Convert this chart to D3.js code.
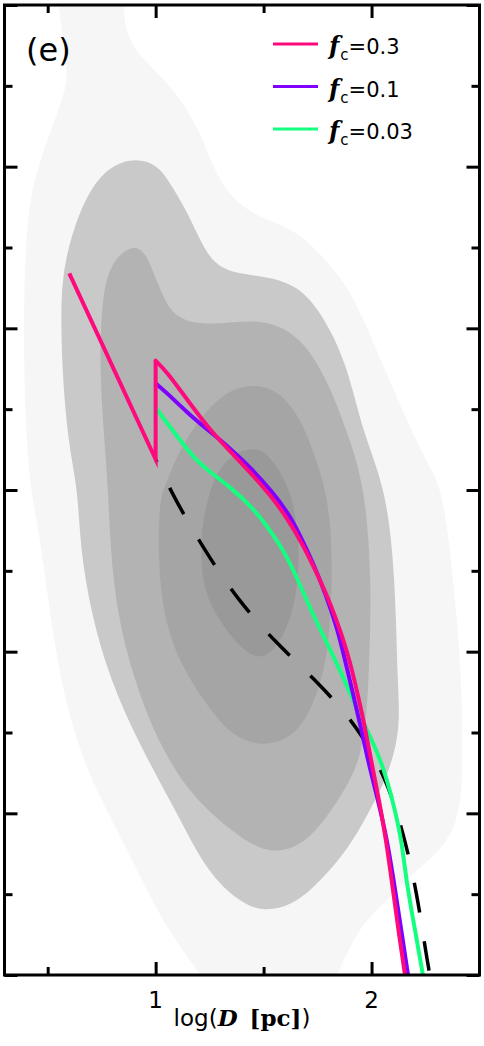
<!DOCTYPE html>
<html>
<head>
<meta charset="utf-8">
<script src="https://cdn.jsdelivr.net/npm/d3@7"></script>
<style>
  body { margin: 0; background: #fff; }
  svg { display: block; font-family: 'DejaVu Sans', sans-serif; }
</style>
</head>
<body>
<svg></svg>
<script>
// density contours, outermost first. points are [log D, y]
let shadeOuter = [[0.54,6.15],[0.55,5.99],[0.59,5.62],[0.59,5.49],[0.51,5.21],[0.43,4.90],[0.40,4.59],[0.39,4.18],[0.39,3.76],[0.40,3.35],[0.42,3.00],[0.46,2.75],[0.51,2.24],[0.56,1.82],[0.64,1.41],[0.74,1.10],[0.90,0.69],[1.05,0.28],[1.21,0.01],[1.28,-0.2],[1.80,-0.2],[1.84,0.01],[1.90,0.17],[1.96,0.32],[2.07,0.46],[2.19,0.63],[2.32,0.77],[2.40,0.94],[2.42,1.21],[2.42,1.31],[2.42,1.82],[2.38,2.44],[2.33,3.00],[2.27,3.14],[2.19,3.35],[2.07,3.72],[1.99,3.97],[1.90,4.24],[1.79,4.42],[1.67,4.59],[1.52,4.67],[1.39,4.75],[1.28,4.94],[1.21,5.21],[1.11,5.43],[1.01,5.58],[0.90,5.72],[0.86,5.86],[0.85,5.99],[0.85,6.15]];
let shadeSecond = [[0.88,5.06],[0.74,4.96],[0.64,4.71],[0.57,4.38],[0.56,4.07],[0.57,3.66],[0.60,3.25],[0.64,3.00],[0.65,2.65],[0.70,2.24],[0.79,1.82],[0.93,1.41],[1.10,1.00],[1.24,0.63],[1.39,0.45],[1.50,0.39],[1.63,0.43],[1.73,0.54],[1.83,0.68],[1.92,0.84],[2.00,1.04],[2.07,1.22],[2.12,1.44],[2.13,1.64],[2.12,1.82],[2.11,2.44],[2.07,3.00],[1.96,3.35],[1.89,3.76],[1.79,4.05],[1.67,4.26],[1.52,4.32],[1.36,4.34],[1.27,4.40],[1.21,4.53],[1.15,4.71],[1.08,4.87],[1.01,5.02]];
let shadeThird = [[0.87,4.50],[0.79,4.40],[0.75,4.18],[0.74,3.76],[0.76,3.35],[0.78,3.00],[0.79,2.65],[0.82,2.24],[0.90,1.82],[1.02,1.41],[1.17,1.10],[1.36,0.88],[1.50,0.76],[1.64,0.77],[1.76,0.91],[1.87,1.13],[1.95,1.33],[1.98,1.64],[1.99,1.95],[2.00,2.44],[1.97,3.02],[1.89,3.35],[1.79,3.70],[1.67,3.95],[1.52,4.05],[1.36,4.04],[1.21,4.02],[1.08,4.07],[1.02,4.24],[0.97,4.42],[0.93,4.50]];
let shadeFourth = [[1.47,3.66],[1.33,3.62],[1.21,3.45],[1.11,3.25],[1.05,3.04],[1.02,2.96],[1.01,2.65],[1.03,2.24],[1.11,1.93],[1.24,1.66],[1.36,1.47],[1.50,1.41],[1.64,1.47],[1.73,1.66],[1.80,1.97],[1.82,2.44],[1.81,2.86],[1.76,3.14],[1.67,3.45],[1.58,3.60]];
let shadeCore = [[1.47,3.27],[1.36,3.23],[1.28,3.11],[1.24,2.94],[1.21,2.75],[1.21,2.44],[1.27,2.24],[1.36,2.07],[1.47,1.94],[1.56,2.01],[1.64,2.24],[1.67,2.55],[1.65,2.86],[1.61,3.04],[1.54,3.19]];

let shades = [shadeOuter, shadeSecond, shadeThird, shadeFourth, shadeCore];
let shadeFills = ['#f6f6f6', '#c9c9c9', '#b3b3b3', '#a5a5a5', '#999999'];

// model tracks, f_c = 0.3 has the jump at log D = 1
let fc03 = [[0.60,4.34],[1.00,3.19],[1.00,3.80],[1.053,3.73],[1.145,3.56],[1.252,3.37],[1.331,3.26],[1.437,3.11],[1.530,2.97],[1.608,2.83],[1.683,2.66],[1.752,2.47],[1.812,2.29],[1.863,2.10],[1.900,1.94],[1.937,1.73],[1.970,1.53],[2.002,1.30],[2.035,1.08],[2.067,0.84],[2.099,0.53],[2.127,0.25],[2.155,0]];
let fc01 = [[1.00,3.66],[1.053,3.60],[1.145,3.48],[1.252,3.36],[1.335,3.27],[1.446,3.13],[1.539,2.99],[1.613,2.86],[1.669,2.72],[1.729,2.55],[1.789,2.35],[1.840,2.15],[1.877,1.95],[1.914,1.74],[1.951,1.53],[1.988,1.30],[2.030,1.08],[2.072,0.84],[2.109,0.53],[2.141,0.25],[2.169,0]];
let fc003 = [[1.00,3.51],[1.043,3.43],[1.113,3.31],[1.182,3.19],[1.252,3.11],[1.344,3.02],[1.451,2.89],[1.530,2.75],[1.590,2.63],[1.636,2.51],[1.683,2.37],[1.729,2.23],[1.780,2.09],[1.831,1.95],[1.886,1.79],[1.937,1.63],[1.996,1.47],[2.051,1.30],[2.098,1.08],[2.139,0.84],[2.160,0.59],[2.197,0.31],[2.238,0]];
let baseTrack = [[1.00,3.19],[1.09,2.94],[1.23,2.62],[1.38,2.32],[1.56,2.05],[1.76,1.80],[1.94,1.53],[2.07,1.21],[2.15,0.87],[2.21,0.51],[2.25,0.15],[2.27,0]];

let seriesNames = ['0.3', '0.1', '0.03'];
let seriesColors = ['#ff0a7c', '#7f00ff', '#14ff80'];

let xMajor = [1, 2], xMinor = [0.5, 1.5];
let xLabels = ['1', '2'];
let yMajor = [0, 1, 2, 3, 4, 5, 6], yMinor = [0.5, 1.5, 2.5, 3.5, 4.5, 5.5];

let width = 484, height = 1046;
let frame = {l: 4.5, r: 479.5, t: 5, b: 975};

let svg = d3.select('svg')
              .attr('width', width)
              .attr('height', height);

let x = d3.scaleLinear().domain([0.3, 2.5]).range([frame.l, frame.r]);
let y = d3.scaleLinear().domain([0, 6]).range([frame.b, frame.t]);

svg.append('defs')
    .append('clipPath')
    .attr('id', 'plotclip')
    .append('rect')
    .attr('x', frame.l)
    .attr('y', frame.t)
    .attr('width', frame.r - frame.l)
    .attr('height', frame.b - frame.t);

let plot = svg.append('g')
              .attr('clip-path', 'url(#plotclip)');

let closedShape = d3.line()
                    .x(d => x(d[0]))
                    .y(d => y(d[1]))
                    .curve(d3.curveBasisClosed);

plot.append('g')
    .selectAll('path')
    .data(shades)
    .join('path')
    .attr('d', closedShape)
    .attr('fill', (d, i) => shadeFills[i]);

let smooth = d3.line()
                .x(d => x(d[0]))
                .y(d => y(d[1]))
                .curve(d3.curveBasis);
let straight = d3.line()
                .x(d => x(d[0]))
                .y(d => y(d[1]));

plot.append('path')
    .attr('d', smooth(baseTrack))
    .attr('fill', 'none')
    .attr('stroke', '#000')
    .attr('stroke-width', 3.5)
    .attr('stroke-dasharray', '30,29')
    .attr('stroke-dashoffset', 27);

let tracks = [fc003, fc01];
tracks.forEach((t, i) => {
  plot.append('path')
      .attr('d', smooth(t))
      .attr('fill', 'none')
      .attr('stroke', seriesColors[2 - i])
      .attr('stroke-width', 4);
});

// f_c = 0.3: straight part up to the jump, then the smooth branch
plot.append('path')
    .attr('d', straight(fc03.slice(0, 3)))
    .attr('fill', 'none')
    .attr('stroke', seriesColors[0])
    .attr('stroke-width', 4)
    .attr('stroke-miterlimit', 10);
plot.append('path')
    .attr('d', smooth(fc03.slice(2)))
    .attr('fill', 'none')
    .attr('stroke', seriesColors[0])
    .attr('stroke-width', 4)
    .attr('stroke-linecap', 'round');

// ticks on all four sides, pointing inwards
let axes = svg.append('g');
function ticks(axis, shift, size, values) {
  axes.append('g')
      .attr('transform', shift)
      .call(axis.tickValues(values).tickSize(size).tickFormat(''))
      .call(g => g.select('.domain').remove())
      .call(g => g.selectAll('line').attr('stroke-width', 3));
}
ticks(d3.axisBottom(x), `translate(0,${frame.b})`, -13, xMajor);
ticks(d3.axisBottom(x), `translate(0,${frame.b})`, -8, xMinor);
ticks(d3.axisTop(x), `translate(0,${frame.t})`, -13, xMajor);
ticks(d3.axisTop(x), `translate(0,${frame.t})`, -8, xMinor);
ticks(d3.axisLeft(y), `translate(${frame.l},0)`, -13, yMajor);
ticks(d3.axisLeft(y), `translate(${frame.l},0)`, -8, yMinor);
ticks(d3.axisRight(y), `translate(${frame.r},0)`, -13, yMajor);
ticks(d3.axisRight(y), `translate(${frame.r},0)`, -8, yMinor);

svg.append('rect')
    .attr('x', frame.l)
    .attr('y', frame.t)
    .attr('width', frame.r - frame.l)
    .attr('height', frame.b - frame.t)
    .attr('fill', 'none')
    .attr('stroke', '#000')
    .attr('stroke-width', 3);

svg.append('g')
    .selectAll('text')
    .data(xMajor)
    .join('text')
    .attr('x', d => x(d))
    .attr('y', 1008)
    .attr('text-anchor', 'middle')
    .attr('font-size', 23)
    .text((d, i) => xLabels[i]);

let xTitle = svg.append('text')
                .attr('x', (frame.l + frame.r) / 2)
                .attr('y', 1026)
                .attr('text-anchor', 'middle')
                .attr('font-size', 23);
xTitle.append('tspan').text('log(');
xTitle.append('tspan')
      .attr('font-family', 'DejaVu Serif')
      .attr('font-style', 'italic')
      .attr('font-weight', 'bold')
      .text('D');
xTitle.append('tspan')
      .attr('dx', 12)
      .attr('font-family', 'DejaVu Serif')
      .attr('font-weight', 'bold')
      .text('[pc]');
xTitle.append('tspan').text(')');

svg.append('text')
    .attr('x', 26)
    .attr('y', 61)
    .attr('font-size', 32)
    .text('(e)');

let legend = svg.append('g');
seriesNames.forEach((name, i) => {
  let ly = 44 + i * 42.5;
  legend.append('line')
        .attr('x1', 273)
        .attr('x2', 318)
        .attr('y1', ly)
        .attr('y2', ly)
        .attr('stroke', seriesColors[i])
        .attr('stroke-width', 3);
  let label = legend.append('text')
                    .attr('x', 329)
                    .attr('y', ly + 10)
                    .attr('font-size', 21);
  label.append('tspan')
       .attr('font-family', 'DejaVu Serif')
       .attr('font-style', 'italic')
       .attr('font-weight', 'bold')
       .attr('font-size', 24)
       .text('f');
  label.append('tspan')
       .attr('dx', 1)
       .attr('dy', 6)
       .attr('font-size', 15)
       .text('c');
  label.append('tspan')
       .attr('dy', -6)
       .text('=' + name);
});
</script>
</body>
</html>
